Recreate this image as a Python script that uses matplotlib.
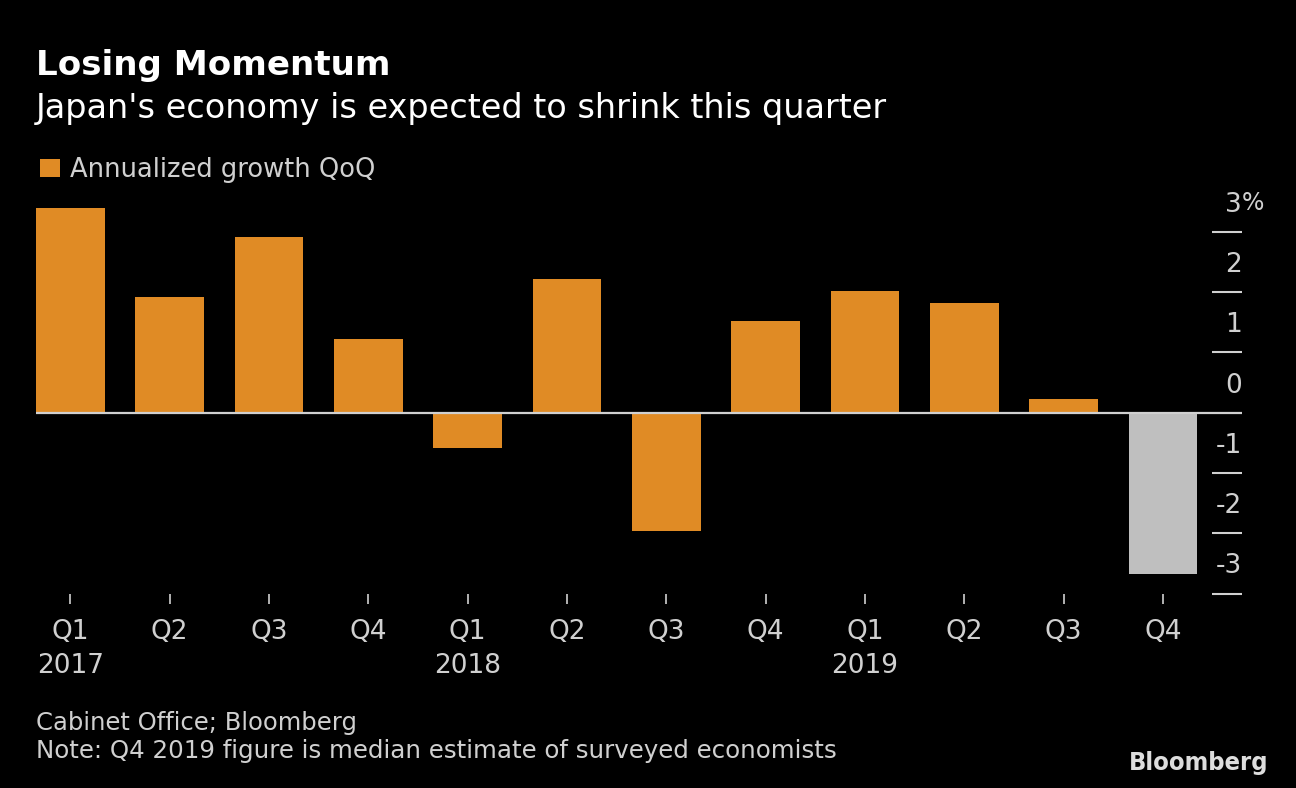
import matplotlib
matplotlib.use("Agg")
import matplotlib.pyplot as plt
import matplotlib.transforms as mtrans

quarters = ["Q1", "Q2", "Q3", "Q4", "Q1", "Q2", "Q3", "Q4", "Q1", "Q2", "Q3", "Q4"]
years = {0: "2017", 4: "2018", 8: "2019"}
growth = [3.40, 1.92, 2.91, 1.22, -0.58, 2.21, -1.97, 1.52, 2.02, 1.82, 0.23, -2.67]
is_estimate = [False] * 11 + [True]
yticks = [3, 2, 1, 0, -1, -2, -3]

ORANGE = "#E08B25"
GRAY_BAR = "#BFBFBF"
TXT = "#D0D0D0"
W, H = 1296, 788

fig = plt.figure(figsize=(W / 100, H / 100), dpi=100, facecolor="black")
renderer = fig.canvas.get_renderer()


def fy(px):
    return 1 - px / H


def fx(px):
    return px / W


def fit_text(x_px, base_px, s, width_px, ha="left", **kw):
    t = fig.text(fx(x_px), fy(base_px), s, va="baseline", ha=ha, fontsize=20, **kw)
    w = t.get_window_extent(renderer).width
    t.set_fontsize(20 * width_px / w)
    return t


# axes placement
ax_left, ax_right = 36, 1242
x0, xstep = 70, (1163 - 70) / 11
half = 0.345
xmin = -half
xmax = (ax_right - x0) / xstep
ytop_val, ybot_val = 3.45, -3.0
zero_px, unit_px = 412.7, 60.3
top_px = zero_px - ytop_val * unit_px
bot_px = zero_px - ybot_val * unit_px
ax = fig.add_axes([fx(ax_left), fy(bot_px), fx(ax_right - ax_left), (bot_px - top_px) / H])
ax.set_facecolor("black")
ax.set_xlim(xmin, xmax)
ax.set_ylim(ybot_val, ytop_val)
for sp in ax.spines.values():
    sp.set_visible(False)

xs = list(range(len(growth)))
colors = [GRAY_BAR if e else ORANGE for e in is_estimate]
ax.bar(xs, growth, width=2 * half, color=colors, zorder=2)
ax.axhline(0, color=TXT, lw=1.6, zorder=3)

# y ticks on right, drawn inward
ax.yaxis.tick_right()
ax.set_yticks([v for v in yticks if v != 0])
ax.tick_params(axis="y", direction="in", length=21.6, width=1.5, color=TXT, labelright=False, right=True, left=False)
ytr = mtrans.blended_transform_factory(ax.transAxes, ax.transData)
for v in yticks:
    ax.text(1.0, v + 0.45, f"{v}", transform=ytr, ha="right", va="center", color=TXT, fontsize=19)
    if v == 3:
        ax.text(0.9995, v + 0.47, "%", transform=ytr, ha="left", va="center", color=TXT, fontsize=17)

# x ticks
ax.set_xticks(xs)
ax.set_xticklabels([])
ax.tick_params(axis="x", direction="out", length=7.2, width=1.2, color=TXT, pad=0)
btr = mtrans.blended_transform_factory(ax.transData, fig.transFigure)
for i, q in enumerate(quarters):
    ax.text(i, fy(632), q, transform=btr, ha="center", va="center", color=TXT, fontsize=19)
for i, yr in years.items():
    ax.text(i, fy(666), yr, transform=btr, ha="center", va="center", color=TXT, fontsize=19)

# titles
fit_text(36, 75, "Losing Momentum", 354, color="white", fontweight="bold")
fit_text(36, 118, "Japan's economy is expected to shrink this quarter", 852, color="white")
# legend
fig.patches.append(plt.Rectangle((fx(40), fy(177)), fx(20), 18 / H, transform=fig.transFigure,
                                 facecolor=ORANGE, edgecolor="none"))
fit_text(70, 177, "Annualized growth QoQ", 305, color=TXT)
# footer
fit_text(36, 730, "Cabinet Office; Bloomberg", 320, color=TXT)
fit_text(36, 758, "Note: Q4 2019 figure is median estimate of surveyed economists", 799, color=TXT)
fit_text(1268, 770, "Bloomberg", 140, ha="right", color="#DDDDDD", fontweight="bold",
         fontstretch="condensed")

fig.savefig("out.png", dpi=100, facecolor="black")
